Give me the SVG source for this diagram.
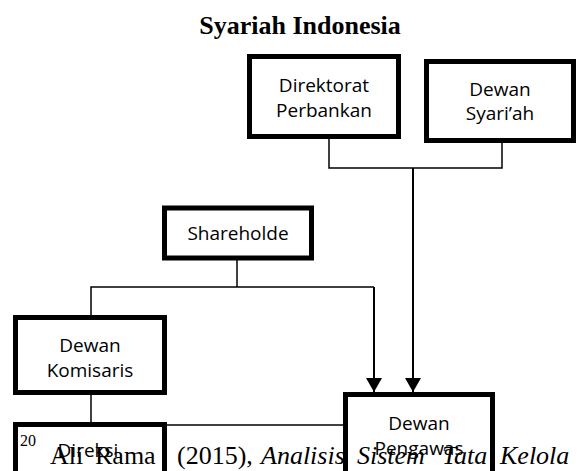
<svg xmlns="http://www.w3.org/2000/svg" width="577" height="471" viewBox="0 0 577 471">
<style>
.box{fill:#fff;stroke:#000;stroke-width:5}
.lbl{font-family:"Open Sans","Noto Sans",sans-serif;font-size:19px;fill:#000;text-anchor:middle}
.con{fill:none;stroke:#000;stroke-width:1.5}
.arr{fill:none;stroke:#000;stroke-width:2}
.serif{font-family:"Liberation Serif","Times New Roman",serif;fill:#000}
</style>
<defs>
<marker id="ah" markerWidth="14" markerHeight="16" refX="14" refY="8" orient="auto" markerUnits="userSpaceOnUse" viewBox="0 0 14 16">
<path d="M0,0 L14,8 L0,16 Z" fill="#000"/>
</marker>
</defs>
<rect width="577" height="471" fill="#fff"/>
<text class="serif" x="300" y="34" font-size="26" font-weight="bold" text-anchor="middle">Syariah Indonesia</text>

<g id="connectors">
<polyline class="con" points="329,139 329,168 502,168 502,143"/>
<line class="arr" x1="413" y1="168" x2="413" y2="392" marker-end="url(#ah)"/>
<line class="con" x1="237" y1="260" x2="237" y2="287"/>
<polyline class="con" points="91,315 91,287 374,287"/>
<line class="arr" x1="374" y1="287" x2="374" y2="392" marker-end="url(#ah)"/>
<line class="con" x1="91" y1="395" x2="91" y2="422"/>
<line class="con" x1="167" y1="425" x2="403" y2="425"/>
</g>

<g id="direktorat">
<rect class="box" x="249.5" y="56.5" width="149" height="80"/>
<text class="lbl" x="324" y="92">Direktorat</text>
<text class="lbl" x="324" y="117">Perbankan</text>
</g>
<g id="dewan-syariah">
<rect class="box" x="426.5" y="61.5" width="147" height="79"/>
<text class="lbl" x="500" y="96">Dewan</text>
<text class="lbl" x="500" y="120">Syari’ah</text>
</g>
<g id="shareholder">
<rect class="box" x="164.5" y="208" width="147" height="50"/>
<text class="lbl" x="238" y="240">Shareholde</text>
</g>
<g id="dewan-komisaris">
<rect class="box" x="15.5" y="317.5" width="149" height="75"/>
<text class="lbl" x="90" y="352">Dewan</text>
<text class="lbl" x="90" y="377">Komisaris</text>
</g>
<g id="direksi">
<rect class="box" x="15.5" y="424.5" width="149" height="80"/>
<text class="lbl" x="88" y="457">Direksi</text>
</g>
<g id="dewan-pengawas">
<rect class="box" x="345.5" y="394.5" width="147" height="100"/>
<text class="lbl" x="419" y="430">Dewan</text>
<text class="lbl" x="419" y="455">Pengawas</text>
</g>

<g id="footnote">
<text class="serif" x="20" y="446" font-size="16">20</text>
<text class="serif" y="464" font-size="26"><tspan x="50">Ali</tspan><tspan x="95">Rama</tspan><tspan x="177">(2015),</tspan><tspan x="261" font-style="italic">Analisis</tspan><tspan x="357" font-style="italic">Sistem</tspan><tspan x="442" font-style="italic">Tata</tspan><tspan x="500" font-style="italic">Kelola</tspan></text>
</g>
</svg>
